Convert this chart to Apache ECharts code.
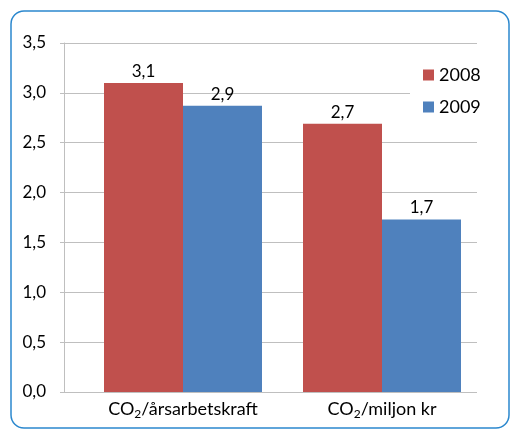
<!DOCTYPE html>
<html><head><meta charset="utf-8">
<script src="https://cdn.jsdelivr.net/npm/echarts@6/dist/echarts.min.js"></script>
<style>html,body{margin:0;padding:0;background:#fff}#c{width:512px;height:430px}</style>
</head><body><div id="c"></div>
<script>
var categories = ['CO2/årsarbetskraft', 'CO2/miljon kr'];
var seriesNames = ['2008', '2009'];
var values2008 = [3.1, 2.69];
var values2009 = [2.87, 1.73];
var yTicks = [0, 0.5, 1, 1.5, 2, 2.5, 3, 3.5];

var FONT = 'Lato';
function comma(v){ return v.toFixed(1).replace('.', ','); }
function catLabel(v){
  var i = v.indexOf('2');
  return '{a|' + v.slice(0, i) + '}{s|2}{a|' + v.slice(i + 1) + '}';
}
var chart = echarts.init(document.getElementById('c'), null, {renderer: 'canvas'});
chart.setOption({
  animation: false,
  backgroundColor: '#fff',
  graphic: [{
    type: 'rect', z: 100, silent: true,
    shape: {x: 11, y: 11, width: 498, height: 417, r: 13},
    style: {fill: 'none', stroke: '#2B88CE', lineWidth: 1.5}
  }],
  grid: [
    {left: 64, top: 43, width: 413, height: 349},
    {left: 83.5, top: 43, width: 398, height: 349}
  ],
  xAxis: [
    {gridIndex: 0, type: 'category', data: ['', ''], axisLabel: {show: false},
     axisTick: {show: false}, axisLine: {show: false}},
    {gridIndex: 1, type: 'category', data: categories,
     axisLine: {show: false}, axisTick: {show: false},
     axisLabel: {margin: 6, interval: 0, formatter: catLabel,
       rich: {
         a: {fontFamily: FONT, fontSize: 18, color: '#000', lineHeight: 22},
         s: {fontFamily: FONT, fontSize: 12, color: '#000', lineHeight: 22, padding: [10, 0, 0, 0]}
       }}}
  ],
  yAxis: [
    {gridIndex: 0, type: 'value', min: 0, max: 3.5, interval: 0.5,
     axisLine: {show: true, lineStyle: {color: '#BFBFBF', width: 1}},
     axisTick: {show: true, length: 4, lineStyle: {color: '#BFBFBF'}},
     splitLine: {show: true, lineStyle: {color: '#BFBFBF', width: 1}},
     axisLabel: {margin: 18, fontFamily: FONT, fontSize: 17, color: '#000',
       formatter: function(v){ return comma(v); }}},
    {gridIndex: 1, type: 'value', min: 0, max: 3.5, interval: 0.5, show: false,
     splitLine: {show: false}}
  ],
  legend: {
    orient: 'vertical', left: 410, top: 58,
    padding: [7, 8, 7, 13], itemGap: 12,
    itemWidth: 11, itemHeight: 11, icon: 'rect',
    backgroundColor: '#fff', z: 10,
    textStyle: {fontFamily: FONT, fontSize: 18, color: '#000', lineHeight: 20},
    data: seriesNames
  },
  series: [
    {name: seriesNames[0], type: 'bar', xAxisIndex: 1, yAxisIndex: 1,
     data: values2008, barWidth: 79, barGap: '0%',
     itemStyle: {color: '#C0504D'},
     label: {show: true, position: 'top', distance: 3, fontFamily: FONT, fontSize: 17, color: '#000',
       formatter: function(p){ return comma(p.value); }}},
    {name: seriesNames[1], type: 'bar', xAxisIndex: 1, yAxisIndex: 1,
     data: values2009, barWidth: 79, barGap: '0%',
     itemStyle: {color: '#4F81BD'},
     label: {show: true, position: 'top', distance: 3, fontFamily: FONT, fontSize: 17, color: '#000',
       formatter: function(p){ return comma(p.value); }}}
  ]
});
</script></body></html>
